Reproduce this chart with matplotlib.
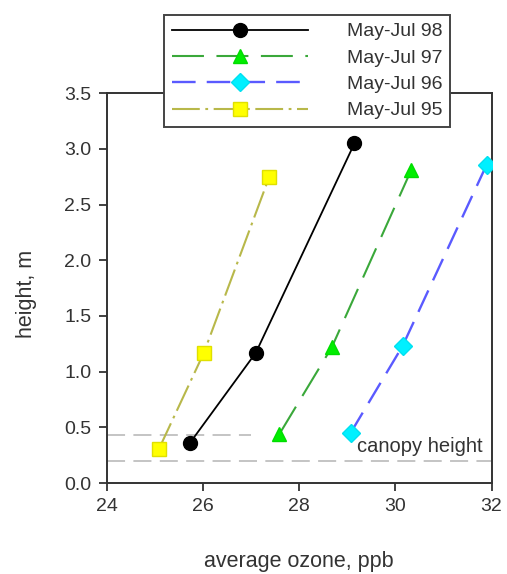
import matplotlib
matplotlib.use('Agg')
import matplotlib.pyplot as plt

plt.rcParams['font.family'] = ['Liberation Sans', 'DejaVu Sans']
plt.rcParams['lines.scale_dashes'] = False

ozone_98 = [25.73, 27.10, 29.15]
height_98 = [0.36, 1.17, 3.05]
ozone_97 = [27.59, 28.68, 30.33]
height_97 = [0.44, 1.22, 2.81]
ozone_96 = [29.07, 30.15, 31.90]
height_96 = [0.45, 1.23, 2.86]
ozone_95 = [25.09, 26.02, 27.38]
height_95 = [0.31, 1.17, 2.75]

canopy_top = 0.43
canopy_low = 0.20
canopy_top_end = 27.0

fig = plt.figure(figsize=(5.07, 5.74), dpi=100)
ax = fig.add_axes([0.2105, 0.1585, 0.759, 0.679])

ax.axhline(canopy_low, color='#c4c4c4', lw=1.4, dashes=(13, 6), zorder=1)
ax.plot([24, canopy_top_end], [canopy_top, canopy_top], color='#c4c4c4', lw=1.4, dashes=(13, 6), zorder=1)
ax.text(29.2, 0.33, 'canopy height', fontsize=14.5, color='#333333', va='center', ha='left')

ax.plot(ozone_98, height_98, color='black', lw=1.3, marker='o', ms=10, mfc='black', mec='black',
        label='May-Jul 98', zorder=3)
ax.plot(ozone_97, height_97, color='#3aa83a', lw=1.5, dashes=(23, 9), marker='^', ms=10.5,
        mfc='#00ee00', mec='#00dd00', label='May-Jul 97', zorder=3)
ax.plot(ozone_96, height_96, color='#5a5aff', lw=1.7, dashes=(17, 8), marker='D', ms=9,
        mfc='#00f0ff', mec='#00e0f0', label='May-Jul 96', zorder=3)
ax.plot(ozone_95, height_95, color='#b8b84a', lw=1.5, dashes=(20, 4, 2, 4), marker='s', ms=10,
        mfc='#ffff00', mec='#e0e000', label='May-Jul 95', zorder=3)

ax.set_xlim(24, 32)
ax.set_ylim(0, 3.5)
ax.set_xticks([24, 26, 28, 30, 32])
ax.set_yticks([0, 0.5, 1.0, 1.5, 2.0, 2.5, 3.0, 3.5])
ax.set_yticklabels(['0.0', '0.5', '1.0', '1.5', '2.0', '2.5', '3.0', '3.5'])
ax.tick_params(direction='out', length=6, width=1.3, labelsize=14, colors='#333333', pad=5)
for s in ax.spines.values():
    s.set_linewidth(1.4)
    s.set_color('#333333')

ax.set_xlabel('average ozone, ppb', fontsize=15.5, color='#333333', labelpad=26)
ax.set_ylabel('height, m', fontsize=15.5, color='#333333')
ax.yaxis.set_label_coords(-0.18, 0.485)

leg = ax.legend(loc='upper left', bbox_to_anchor=(0.324, 0.974), bbox_transform=fig.transFigure,
                fontsize=14, handlelength=7.0, handletextpad=2.0, labelspacing=0.45,
                borderpad=0.4, borderaxespad=0, fancybox=False, framealpha=1, edgecolor='#444444',
                markerfirst=True)
leg.get_frame().set_linewidth(1.4)
for t in leg.get_texts():
    t.set_color('#333333')

fig.savefig('out.png', dpi=100)
